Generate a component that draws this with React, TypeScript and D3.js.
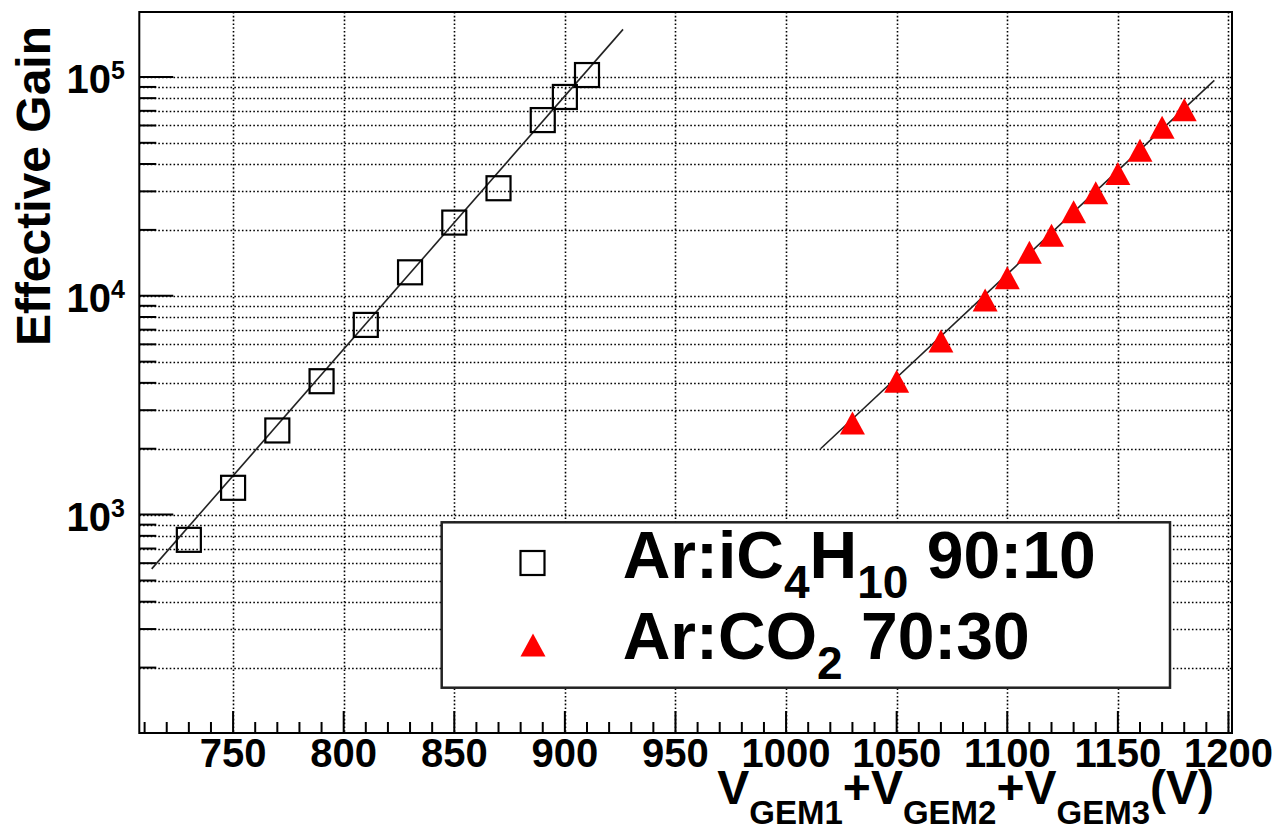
import React, {useEffect, useRef} from 'react'
import * as d3 from 'd3'

// Ar:iC4H10 90:10 (open squares)
const isoVolts = [730, 750, 770, 790, 810, 830, 850, 870, 890, 900, 910]
const isoGains = [767, 1326, 2424, 4070, 7360, 12800, 21600, 31000, 63500, 81000, 102000]
const isoFitVolts = [713.2, 926.3]
const isoFitGains = [565, 164900]

// Ar:CO2 70:30 (red triangles)
const co2Volts = [1030, 1050, 1070, 1090, 1100, 1110, 1120, 1130, 1140, 1150, 1160, 1170, 1180]
const co2Gains = [2620, 4070, 6210, 9560, 12100, 15800, 18900, 24200, 29600, 36200, 46200, 58900, 70800]
const co2FitVolts = [1015.6, 1193.6]
const co2FitGains = [2000, 96400]

const xMajorTicks = [750, 800, 850, 900, 950, 1000, 1050, 1100, 1150, 1200]
const xMinorTicks = d3.range(710, 1201, 10)
const yLabelTicks = [1e3, 1e4, 1e5]
const yLabelExps = ['3', '4', '5']

const FONT = '"Liberation Sans", Arial, Helvetica, sans-serif'

export default function App() {
    const svgRef = useRef<SVGSVGElement>(null)

    useEffect(() => {
        const svg = d3.select(svgRef.current)
        svg.selectAll('*').remove()

        const left = 139.3, right = 1232, top = 12, bottom = 733
        const x = d3.scaleLinear().domain([707.6, 1201.6]).range([left, right])
        const y = d3.scaleLog().domain([100.5, 1.98e5]).range([bottom, top])

        svg.append('rect').attr('width', 1279).attr('height', 827).attr('fill', '#fff')

        const yTicks = y.ticks().filter(t => t >= 100.5 && t <= 1.98e5)
        const isMajor = (t: number) => Math.abs(Math.log10(t) - Math.round(Math.log10(t))) < 1e-6

        // dotted grid
        const grid = svg.append('g')
            .attr('stroke', '#000').attr('stroke-width', 1.6).attr('stroke-dasharray', '1.6 2.2')
        grid.selectAll('.vg').data(xMajorTicks).enter().append('line')
            .attr('x1', d => Math.round(x(d)) + 0.5).attr('x2', d => Math.round(x(d)) + 0.5)
            .attr('y1', top).attr('y2', bottom)
        grid.selectAll('.hg').data(yTicks).enter().append('line')
            .attr('x1', left).attr('x2', right)
            .attr('y1', d => Math.round(y(d)) + 0.5).attr('y2', d => Math.round(y(d)) + 0.5)

        // ticks
        const ticks = svg.append('g').attr('stroke', '#000').attr('stroke-width', 2)
        ticks.selectAll('.xt').data(xMinorTicks).enter().append('line')
            .attr('x1', d => x(d)).attr('x2', d => x(d))
            .attr('y1', bottom).attr('y2', d => bottom - (d % 50 === 0 ? 22 : 11))
        ticks.selectAll('.yt').data(yTicks).enter().append('line')
            .attr('x1', left).attr('x2', d => left + (isMajor(d) ? 34 : 17))
            .attr('y1', d => y(d)).attr('y2', d => y(d))

        // frame
        svg.append('rect')
            .attr('x', left).attr('y', top)
            .attr('width', right - left).attr('height', bottom - top)
            .attr('fill', 'none').attr('stroke', '#000').attr('stroke-width', 2)

        // x tick labels
        svg.append('g').selectAll('text').data(xMajorTicks).enter().append('text')
            .attr('x', d => x(d)).attr('y', 767)
            .attr('text-anchor', 'middle')
            .attr('font-family', FONT).attr('font-weight', 'bold').attr('font-size', 40)
            .text(d => d)

        // y tick labels 10^n
        yLabelTicks.forEach((t, i) => {
            const txt = svg.append('text')
                .attr('x', 125).attr('y', y(t) + 16)
                .attr('text-anchor', 'end')
                .attr('font-family', FONT).attr('font-weight', 'bold')
            txt.append('tspan').attr('font-size', 40).text('10')
            txt.append('tspan').attr('font-size', 25).attr('dy', -13.5).text(yLabelExps[i])
        })

        // axis titles
        svg.append('text')
            .attr('transform', 'translate(50,26) rotate(-90)')
            .attr('text-anchor', 'end')
            .attr('font-family', FONT).attr('font-weight', 'bold').attr('font-size', 48)
            .text('Effective Gain')

        const xt = svg.append('text')
            .attr('x', 1214).attr('y', 804)
            .attr('text-anchor', 'end')
            .attr('font-family', FONT).attr('font-weight', 'bold').attr('font-size', 48)
        const parts: [string, boolean][] = [
            ['V', false], ['GEM1', true], ['+V', false], ['GEM2', true], ['+V', false], ['GEM3', true], ['(V)', false]
        ]
        parts.forEach(([s, sub], i) => {
            const ts = xt.append('tspan').text(s)
            if (sub) ts.attr('font-size', 33).attr('dy', 20)
            else if (i > 0) ts.attr('dy', -20)
        })

        // fit lines
        const line = d3.line<[number, number]>().x(d => x(d[0])).y(d => y(d[1]))
        const fits = [
            d3.zip(isoFitVolts, isoFitGains) as [number, number][],
            d3.zip(co2FitVolts, co2FitGains) as [number, number][]
        ]
        svg.append('g').selectAll('path').data(fits).enter().append('path')
            .attr('d', d => line(d))
            .attr('fill', 'none').attr('stroke', '#222').attr('stroke-width', 1.6)

        // markers
        const triangle = (cx: number, cy: number) =>
            `M${cx},${cy - 11.5}L${cx + 12.5},${cy + 11.5}L${cx - 12.5},${cy + 11.5}Z`

        svg.append('g').selectAll('rect').data(d3.zip(isoVolts, isoGains)).enter().append('rect')
            .attr('x', d => x(d[0]) - 12).attr('y', d => y(d[1]) - 12)
            .attr('width', 24).attr('height', 24)
            .attr('fill', 'none').attr('stroke', '#000').attr('stroke-width', 2.2)

        svg.append('g').selectAll('path').data(d3.zip(co2Volts, co2Gains)).enter().append('path')
            .attr('d', d => triangle(x(d[0]), y(d[1])))
            .attr('fill', '#ff0000')

        // legend
        const lg = svg.append('g')
        lg.append('rect')
            .attr('x', 441.7).attr('y', 522.3).attr('width', 728.3).attr('height', 165.4)
            .attr('fill', '#fff').attr('stroke', '#222').attr('stroke-width', 2.5)
        lg.append('rect')
            .attr('x', 520.5).attr('y', 551).attr('width', 24).attr('height', 24)
            .attr('fill', 'none').attr('stroke', '#000').attr('stroke-width', 2.2)
        lg.append('path').attr('d', triangle(533, 645)).attr('fill', '#ff0000')

        const entries: [string, boolean][][] = [
            [['Ar:iC', false], ['4', true], ['H', false], ['10', true], [' 90:10', false]],
            [['Ar:CO', false], ['2', true], [' 70:30', false]]
        ]
        const baselines = [577.7, 659]
        entries.forEach((entry, j) => {
            const t = lg.append('text')
                .attr('x', 622.7).attr('y', baselines[j])
                .attr('font-family', FONT).attr('font-weight', 'bold').attr('font-size', 66)
                .style('white-space', 'pre')
            entry.forEach(([s, sub], i) => {
                const ts = t.append('tspan').text(s)
                if (sub) ts.attr('font-size', 46).attr('dy', 20)
                else if (i > 0) ts.attr('dy', -20)
            })
        })
    }, [])

    return (
        <svg ref={svgRef} width={1279} height={827}
             style={{position: 'absolute', left: 0, top: 0, display: 'block'}} />
    )
}
